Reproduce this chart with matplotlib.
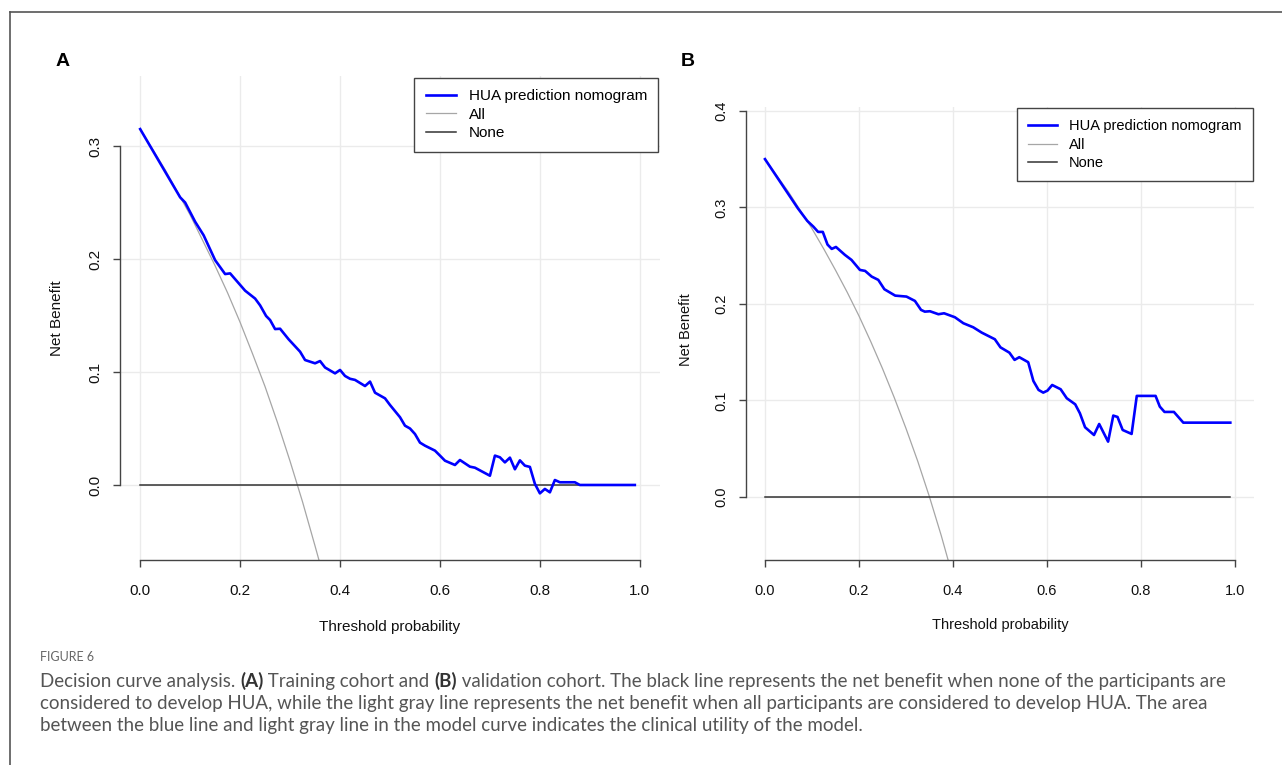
import numpy as np
import matplotlib.pyplot as plt
from matplotlib.lines import Line2D

# ---- data ----
# panel A (training cohort)
thr_a = [0.0, 0.08, 0.09, 0.11, 0.127, 0.15, 0.17, 0.18, 0.21, 0.23, 0.24, 0.252, 0.26, 0.27,
         0.28, 0.297, 0.32, 0.33, 0.35, 0.36, 0.37, 0.39, 0.40, 0.41, 0.42, 0.43, 0.45, 0.46,
         0.47, 0.49, 0.50, 0.52, 0.53, 0.54, 0.55, 0.56, 0.57, 0.59, 0.60, 0.61, 0.63, 0.64,
         0.66, 0.67, 0.70, 0.71, 0.72, 0.73, 0.74, 0.75, 0.76, 0.77, 0.78, 0.79, 0.80, 0.81,
         0.82, 0.83, 0.84, 0.87, 0.88, 0.99]
nb_a = [0.315, 0.2546, 0.250, 0.233, 0.221, 0.199, 0.1867, 0.1873, 0.172, 0.165, 0.159, 0.1496,
        0.146, 0.138, 0.1383, 0.129, 0.118, 0.1106, 0.1077, 0.1097, 0.104, 0.0988, 0.1018,
        0.0965, 0.094, 0.093, 0.0876, 0.0915, 0.0817, 0.0767, 0.0708, 0.060, 0.0525, 0.050,
        0.0451, 0.0375, 0.0348, 0.0304, 0.026, 0.0215, 0.0177, 0.0221, 0.0162, 0.0153, 0.0082,
        0.026, 0.0245, 0.020, 0.0242, 0.0139, 0.0218, 0.0171, 0.016, 0.001, -0.0074, -0.0035,
        -0.0065, 0.0044, 0.0024, 0.0024, 0.0, 0.0]
all_thr_a = [0.0, 0.05, 0.1, 0.15, 0.175, 0.2, 0.225, 0.25, 0.275, 0.3, 0.325, 0.35, 0.36]
all_nb_a = [0.315, 0.279, 0.239, 0.194, 0.170, 0.144, 0.116, 0.087, 0.055, 0.021, -0.015, -0.054, -0.070]

# panel B (validation cohort)
thr_b = [0.0, 0.07, 0.09, 0.103, 0.113, 0.123, 0.133, 0.142, 0.151, 0.17, 0.184, 0.202, 0.213,
         0.227, 0.241, 0.254, 0.277, 0.301, 0.319, 0.332, 0.340, 0.351, 0.369, 0.381, 0.404,
         0.422, 0.443, 0.461, 0.489, 0.501, 0.520, 0.531, 0.541, 0.560, 0.571, 0.582, 0.592,
         0.601, 0.611, 0.629, 0.642, 0.660, 0.670, 0.681, 0.700, 0.711, 0.730, 0.741, 0.750,
         0.761, 0.780, 0.791, 0.831, 0.840, 0.850, 0.870, 0.890, 0.99]
nb_b = [0.35, 0.299, 0.286, 0.280, 0.2746, 0.2746, 0.2615, 0.257, 0.259, 0.2508, 0.2456, 0.2352,
        0.2342, 0.2283, 0.2249, 0.2152, 0.2086, 0.2076, 0.2031, 0.1938, 0.192, 0.1924, 0.1893,
        0.1903, 0.1862, 0.180, 0.1758, 0.1703, 0.1634, 0.155, 0.1495, 0.142, 0.1448, 0.1396,
        0.1202, 0.1109, 0.1081, 0.1102, 0.116, 0.1116, 0.1023, 0.096, 0.0867, 0.0722, 0.0642,
        0.0756, 0.0573, 0.0843, 0.0829, 0.0694, 0.0653, 0.1047, 0.1047, 0.0936, 0.0881, 0.0881,
        0.077, 0.077]
all_thr_b = [0.0, 0.05, 0.1, 0.125, 0.15, 0.175, 0.2, 0.225, 0.25, 0.275, 0.3, 0.325, 0.35, 0.375, 0.39]
all_nb_b = [0.35, 0.316, 0.278, 0.257, 0.235, 0.212, 0.1875, 0.161, 0.133, 0.103, 0.071, 0.037, 0.0, -0.04, -0.066]

none_thr = [0.0, 0.99]
none_nb = [0.0, 0.0]

xticks = [0.0, 0.2, 0.4, 0.6, 0.8, 1.0]
yticks_a = [0.0, 0.1, 0.2, 0.3]
yticks_b = [0.0, 0.1, 0.2, 0.3, 0.4]
legend_labels = ['HUA prediction nomogram', 'All', 'None']

W, H = 1282, 765
plt.rcParams['font.family'] = ['Liberation Sans', 'DejaVu Sans']

fig = plt.figure(figsize=(W / 100, H / 100), dpi=100)


def fx(px):
    return px / W


def fy(py):
    return 1 - py / H


def panel(box, thr, nb, all_thr, all_nb, yticks, ylim, fs, letter, letter_xy, xlab_xy, ylab_xy):
    l, t, r, b = box
    ax = fig.add_axes([fx(l), fy(b), fx(r) - fx(l), fy(t) - fy(b)])
    ax.set_xlim(-0.0404, 1.0404)
    ax.set_ylim(*ylim)
    for v in xticks:
        ax.axvline(v, color='#ebebeb', lw=1.0, zorder=0)
    for v in yticks:
        ax.axhline(v, color='#ebebeb', lw=1.0, zorder=0)
    h_all, = ax.plot(all_thr, all_nb, color='#a6a6a6', lw=0.9, zorder=2)
    h_none, = ax.plot(none_thr, none_nb, color='#333333', lw=1.1, zorder=2)
    h_model, = ax.plot(thr, nb, color='#0000ff', lw=1.9, zorder=3)
    for s in ['top', 'right']:
        ax.spines[s].set_visible(False)
    for s in ['left', 'bottom']:
        ax.spines[s].set_color('#444444')
        ax.spines[s].set_linewidth(1.0)
    ax.spines['left'].set_bounds(yticks[0], yticks[-1])
    ax.spines['bottom'].set_bounds(0, 1)
    ax.set_xticks(xticks)
    ax.set_xticklabels(['%.1f' % v for v in xticks], fontsize=fs)
    ax.set_yticks(yticks)
    ax.set_yticklabels(['%.1f' % v for v in yticks], fontsize=fs, rotation=90, va='center')
    ax.tick_params(axis='both', length=5, width=1.0, color='#444444', labelcolor='#111111')
    ax.tick_params(axis='x', pad=12)
    ax.tick_params(axis='y', pad=8)
    ax.patch.set_visible(False)
    leg = ax.legend([h_model, h_all, h_none], legend_labels, loc='upper right',
                    bbox_to_anchor=(1, 1), borderaxespad=0.1, fancybox=False,
                    edgecolor='#444444', framealpha=1, fontsize=fs, handlelength=2.0,
                    handletextpad=0.8, labelspacing=0.3, borderpad=0.75)
    leg.get_frame().set_linewidth(1.0)
    fig.text(fx(letter_xy[0]), fy(letter_xy[1]), letter, fontsize=14, fontweight='bold',
             ha='center', va='center')
    fig.text(fx(xlab_xy[0]), fy(xlab_xy[1]), 'Threshold probability', fontsize=fs,
             ha='center', va='center', color='#111111')
    fig.text(fx(ylab_xy[0]), fy(ylab_xy[1]), 'Net Benefit', fontsize=fs, rotation=90,
             ha='center', va='center', color='#111111')
    return ax


panel((120, 76, 660, 560), thr_a, nb_a, all_thr_a, all_nb_a, yticks_a, (-0.0664, 0.362), 11,
      'A', (63, 62), (390, 627), (57, 318))
panel((746, 107, 1254, 560), thr_b, nb_b, all_thr_b, all_nb_b, yticks_b, (-0.0653, 0.404), 10.5,
      'B', (688, 62), (1000, 625), (686, 330))

# figure frame (left and top edges only)
fig.add_artist(Line2D([fx(10), fx(10)], [0, fy(12)], color='#555555', lw=1.2))
fig.add_artist(Line2D([fx(10), 1], [fy(12), fy(12)], color='#555555', lw=1.2))

# caption
cap_font = ['Lato', 'DejaVu Sans']
fig.text(fx(40), fy(657), 'FIGURE 6', fontsize=9, color='#666666', family=cap_font,
         va='center')

renderer = fig.canvas.get_renderer()


def rich_line(x, y, pieces):
    for txt, bold in pieces:
        t = fig.text(x, y, txt, fontsize=13.5, family=cap_font, va='center',
                     color='#333333' if bold else '#555555',
                     fontweight='bold' if bold else 'normal')
        bb = t.get_window_extent(renderer=renderer)
        x += bb.width / fig.bbox.width


rich_line(fx(40), fy(681), [('Decision curve analysis. ', False), ('(A)', True),
                            (' Training cohort and ', False), ('(B)', True),
                            (' validation cohort. The black line represents the net benefit when none of the participants are', False)])
rich_line(fx(40), fy(703), [('considered to develop HUA, while the light gray line represents the net benefit when all participants are considered to develop HUA. The area', False)])
rich_line(fx(40), fy(725), [('between the blue line and light gray line in the model curve indicates the clinical utility of the model.', False)])

fig.savefig('out.png', dpi=100)
